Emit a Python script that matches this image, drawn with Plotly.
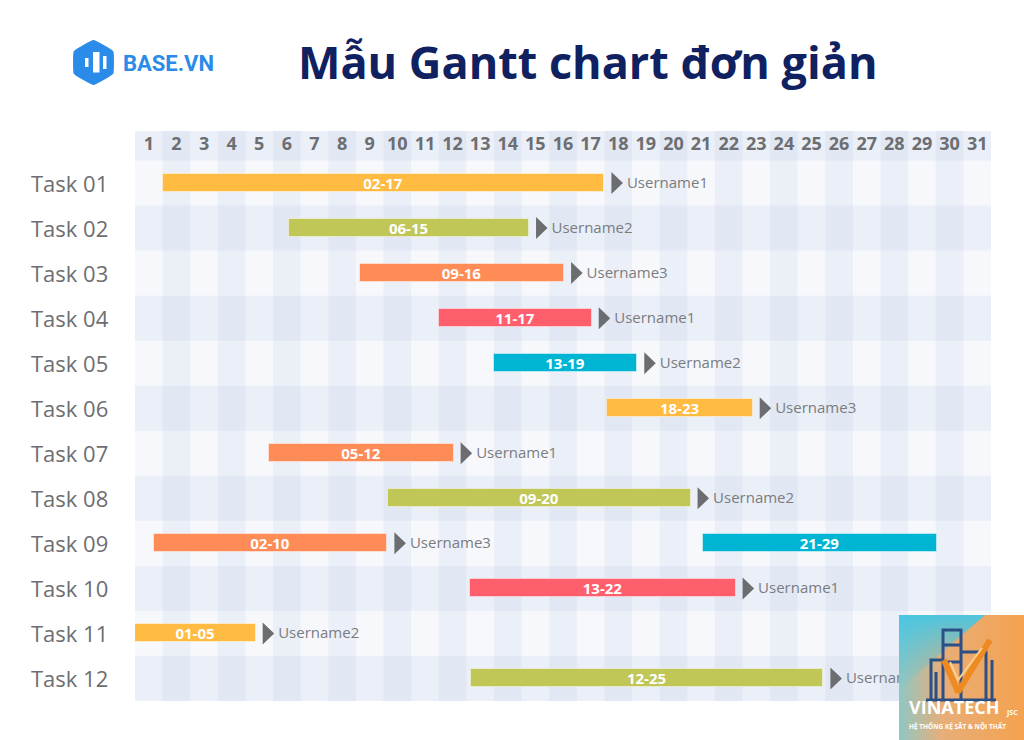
import plotly.graph_objects as go

# ---------------- data ----------------
tasks = ["Task 01", "Task 02", "Task 03", "Task 04", "Task 05", "Task 06",
         "Task 07", "Task 08", "Task 09", "Task 10", "Task 11", "Task 12"]
days = list(range(1, 32))

bar_task = [0, 1, 2, 3, 4, 5, 6, 7, 8, 8, 9, 10, 11]
bar_start = [1.0, 5.58, 8.15, 11.0, 12.99, 17.1, 4.85, 9.16, 0.69, 20.58, 12.13, 0.0, 12.17]
bar_end = [17.0, 14.27, 15.54, 16.54, 18.19, 22.37, 11.54, 20.12, 9.14, 29.03, 21.75, 4.37, 24.93]
bar_label = ["02-17", "06-15", "09-16", "11-17", "13-19", "18-23", "05-12",
             "09-20", "02-10", "21-29", "13-22", "01-05", "12-25"]
bar_kind = ["yellow", "olive", "orange", "red", "cyan", "yellow", "orange",
            "olive", "orange", "cyan", "red", "yellow", "olive"]
bar_owner = ["Username1", "Username2", "Username3", "Username1", "Username2", "Username3",
             "Username1", "Username2", "Username3", "", "Username1", "Username2", "Username3"]

palette = {"yellow": "#FFBB42", "olive": "#C1C757", "orange": "#FF8C56",
           "red": "#FF5F6D", "cyan": "#00B5D3"}

# ---------------- geometry (figure pixels) ----------------
W, H = 1024, 740
GX0, GX1 = 135, 991          # grid left/right
GY0, GY1 = 131, 701          # grid top/bottom
HEAD = 0.655                 # header height in row units
NROW = len(tasks)
PXU = (GX1 - GX0) / len(days)            # px per day
PYU = (GY1 - GY0) / (NROW + HEAD)        # px per row

TEXT = "#6D6E71"
fig = go.Figure()

# bars
for k in range(len(bar_label)):
    fig.add_trace(go.Bar(
        orientation="h", y=[bar_task[k] + 0.5], base=[bar_start[k]],
        x=[bar_end[k] - bar_start[k]], width=18 / PYU,
        marker=dict(color=palette[bar_kind[k]], line=dict(width=1, color="rgba(255,255,255,0.45)")),
        text=[bar_label[k]], textposition="inside", insidetextanchor="middle",
        textangle=0, constraintext="none",
        textfont=dict(family="Open Sans", size=15, color="white", weight=700),
        hoverinfo="skip", showlegend=False))

# arrows (triangles) after bars with an owner
tx, ty = [], []
nx, ny, nt = [], [], []
gap, tw, th = 7 / PXU, 11.5 / PXU, 11 / PYU
for k in range(len(bar_label)):
    if not bar_owner[k]:
        continue
    yc = bar_task[k] + 0.5
    x0 = bar_end[k] + gap
    tx += [x0, x0 + tw, x0, x0, None]
    ty += [yc - th, yc, yc + th, yc - th, None]
    nx.append(x0 + tw + 4 / PXU)
    ny.append(yc + 1 / PYU)
    nt.append(bar_owner[k])
fig.add_trace(go.Scatter(x=tx, y=ty, mode="lines", fill="toself", fillcolor="#6B6D71",
                         line=dict(width=0, color="#6B6D71"), hoverinfo="skip",
                         showlegend=False, cliponaxis=False))
fig.add_trace(go.Scatter(x=nx, y=ny, mode="text", text=nt, textposition="middle right",
                         textfont=dict(family="Open Sans", size=15, color="#7A7C80"),
                         hoverinfo="skip", showlegend=False, cliponaxis=False))

# header day numbers
fig.add_trace(go.Scatter(x=[d - 0.5 for d in days], y=[-HEAD / 2] * len(days), mode="text",
                         text=[str(d) for d in days], textposition="middle center",
                         textfont=dict(family="Open Sans", size=18, color=TEXT, weight=700),
                         hoverinfo="skip", showlegend=False, cliponaxis=False))

# ---------------- background stripes ----------------
shapes = [dict(type="rect", xref="x", yref="y", x0=0, x1=len(days), y0=-HEAD, y1=NROW,
               fillcolor="#F7F8FC", line_width=0, layer="below")]
stripe = "rgba(196,208,234,0.22)"
shapes.append(dict(type="rect", xref="x", yref="y", x0=0, x1=len(days), y0=-HEAD, y1=0,
                   fillcolor=stripe, line_width=0, layer="below"))
for r in range(1, NROW, 2):
    shapes.append(dict(type="rect", xref="x", yref="y", x0=0, x1=len(days), y0=r, y1=r + 1,
                       fillcolor=stripe, line_width=0, layer="below"))
for d in days:
    if d % 2 == 0:
        shapes.append(dict(type="rect", xref="x", yref="y", x0=d - 1, x1=d, y0=-HEAD, y1=NROW,
                           fillcolor=stripe, line_width=0, layer="below"))

# ---------------- decorations on full-figure pixel subplot ----------------
# BASE.VN hexagon logo
hx = [93.5, 112, 112, 93.5, 75, 75, 93.5]
hy = [41.5, 52, 73, 83.5, 73, 52, 41.5]
fig.add_trace(go.Scatter(x=hx, y=hy, xaxis="x2", yaxis="y2", mode="lines", fill="toself",
                         fillcolor="#2B8BE8", line=dict(color="#2B8BE8", width=3, shape="spline", smoothing=0.2),
                         hoverinfo="skip", showlegend=False))
bx, by = [], []
for (a, b, c, e) in [(85, 58, 88.5, 67), (93, 52, 99.5, 72.5), (103, 56, 106.5, 69)]:
    bx += [a, c, c, a, a, None]
    by += [b, b, e, e, b, None]
fig.add_trace(go.Scatter(x=bx, y=by, xaxis="x2", yaxis="y2", mode="lines", fill="toself",
                         fillcolor="white", line=dict(color="white", width=0),
                         hoverinfo="skip", showlegend=False))

# VINATECH badge
fig.add_trace(go.Scatter(x=[899, 1024, 1024, 899, 899], y=[615, 615, 740, 740, 615],
                         xaxis="x2", yaxis="y2", mode="lines", fill="toself",
                         fillgradient=dict(type="horizontal",
                                           colorscale=[[0, "#8FC7C4"], [0.35, "#E8AE78"], [1, "#F4A24F"]]),
                         line=dict(width=0), hoverinfo="skip", showlegend=False))
fig.add_trace(go.Scatter(x=[899, 985, 899, 899], y=[615, 615, 690, 615],
                         xaxis="x2", yaxis="y2", mode="lines", fill="toself",
                         fillgradient=dict(type="vertical",
                                           colorscale=[[0, "rgba(70,198,228,0)"], [1, "rgba(70,198,228,0.95)"]]),
                         line=dict(width=0), hoverinfo="skip", showlegend=False))
# building frame
fx = [931, 931, 943, None, 943, 943, 961, 961, None, 943, 961, None, 943, 961, None,
      961, 986, 986, None, 992, 992, None, 926, 996, None, 936, 936, None]
fy = [700, 660, 660, None, 700, 630, 630, 700, None, 645, 645, None, 662, 662, None,
      652, 652, 700, None, 660, 700, None, 700, 700, None, 672, 700, None]
fig.add_trace(go.Scatter(x=fx, y=fy, xaxis="x2", yaxis="y2", mode="lines",
                         line=dict(color="#2C4F86", width=3), hoverinfo="skip", showlegend=False))
fig.add_trace(go.Scatter(x=[944, 958, 990], y=[660, 692, 640], xaxis="x2", yaxis="y2", mode="lines",
                         line=dict(color="#EE8A22", width=6), hoverinfo="skip", showlegend=False))
fig.add_trace(go.Scatter(x=[950, 958, 982], y=[662, 680, 648], xaxis="x2", yaxis="y2", mode="lines",
                         line=dict(color="#FFD08A", width=2), hoverinfo="skip", showlegend=False))

# ---------------- annotations ----------------
ann = []
for i, t in enumerate(tasks):
    ann.append(dict(xref="x2", yref="y", x=29, y=i + 0.5, text=t, showarrow=False,
                    xanchor="left", yanchor="middle",
                    font=dict(family="Open Sans", size=22, color=TEXT)))
ann.append(dict(xref="x2", yref="y2", x=587, y=61, text="<b>Mẫu Gantt chart đơn giản</b>",
                showarrow=False, xanchor="center", yanchor="middle",
                font=dict(family="Open Sans", size=45, color="#0F2160")))
ann.append(dict(xref="x2", yref="y2", x=121, y=63, text="<b>BASE.VN</b>",
                showarrow=False, xanchor="left", yanchor="middle",
                font=dict(family="Roboto", size=22, color="#2B8BE8")))
ann.append(dict(xref="x2", yref="y2", x=954, y=707, text="<b>VINATECH</b>",
                showarrow=False, xanchor="center", yanchor="middle",
                font=dict(family="Open Sans", size=18, color="white")))
ann.append(dict(xref="x2", yref="y2", x=1012, y=712, text="<b>JSC</b>",
                showarrow=False, xanchor="center", yanchor="middle",
                font=dict(family="Open Sans", size=7, color="white")))
ann.append(dict(xref="x2", yref="y2", x=957, y=726, text="<b>HỆ THỐNG KỆ SẮT & NỘI THẤT</b>",
                showarrow=False, xanchor="center", yanchor="middle",
                font=dict(family="Open Sans", size=6.5, color="white")))

fig.update_layout(
    width=W, height=H, autosize=False,
    margin=dict(l=0, r=0, t=0, b=0, pad=0),
    paper_bgcolor="white", plot_bgcolor="rgba(0,0,0,0)",
    barmode="overlay", bargap=0, showlegend=False,
    shapes=shapes, annotations=ann,
    xaxis=dict(domain=[GX0 / W, GX1 / W], range=[0, len(days)], visible=False, fixedrange=True),
    yaxis=dict(domain=[1 - GY1 / H, 1 - GY0 / H], range=[NROW, -HEAD], visible=False, fixedrange=True),
    xaxis2=dict(domain=[0, 1], range=[0, W], visible=False, anchor="y2", fixedrange=True),
    yaxis2=dict(domain=[0, 1], range=[H, 0], visible=False, anchor="x2", fixedrange=True),
)

fig.write_html("out.html")
